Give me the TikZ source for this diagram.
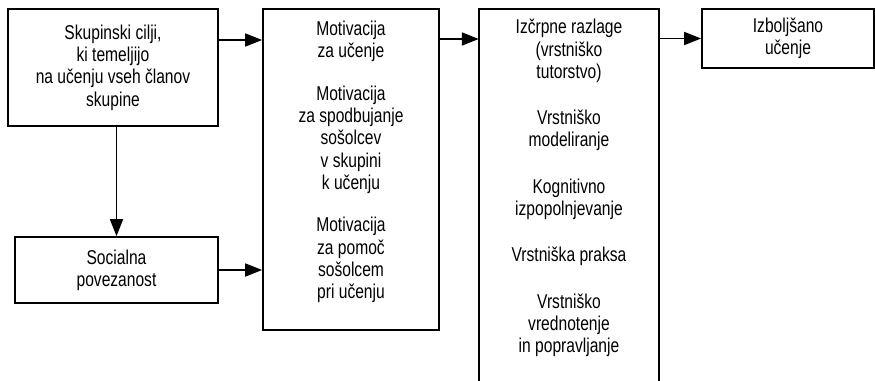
\documentclass[tikz,border=0pt]{standalone}
\usepackage{fontspec}
\setmainfont[FakeStretch=0.78]{Liberation Sans}
\usetikzlibrary{arrows.meta,positioning}
\tikzstyle{box}=[draw, line width=1.7pt, inner sep=0pt]
\tikzstyle{txt}=[align=center, inner sep=0pt, font=\fontsize{20}{22.3}\selectfont]
\tikzstyle{arrow}=[line width=1.7pt, -{Triangle[length=17pt,width=13pt]}]

\begin{document}
\begin{tikzpicture}[x=1pt, y=-1pt]
    \useasboundingbox (0,0) rectangle (875,380);
% Boxes
    \node[box, txt, minimum width=210pt, minimum height=117pt] (goals) at (113,67.5)
        {Skupinski cilji,\\ki temeljijo\\na učenju vseh članov\\skupine};
    \node[box, txt, minimum width=203pt, minimum height=66pt] (social) at (116.5,270)
        {Socialna\\povezanost};
    \node[box, minimum width=176pt, minimum height=321pt] (motiv) at (351,169.5) {};
    \node[minimum width=180pt, minimum height=400pt, inner sep=0pt] (peer) at (569,209) {};
    \draw[line width=1.7pt] (peer.south west) -- (peer.north west) -- (peer.north east) -- (peer.south east);
    \node[box, txt, minimum width=172pt, minimum height=59pt] (better) at (788,38.5)
        {Izboljšano\\učenje};
% Texts in the tall boxes
    \node[txt, anchor=north] (motivtxt) at (351,21)
        {Motivacija\\za učenje\\[20pt]
         Motivacija\\za spodbujanje\\sošolcev\\v skupini\\k učenju\\[20pt]
         Motivacija\\za pomoč\\sošolcem\\pri učenju};
    \node[txt, anchor=north] (peertxt) at (569,19)
        {Izčrpne razlage\\(vrstniško\\tutorstvo)\\[24pt]
         Vrstniško\\modeliranje\\[24pt]
         Kognitivno\\izpopolnjevanje\\[24pt]
         Vrstniška praksa\\[24pt]
         Vrstniško\\vrednotenje\\in popravljanje};
% Arrows
    \draw[arrow] (goals.east |- 0,40) -- (motiv.west |- 0,40);
    \draw[arrow] (social.north |- goals.south) -- (social.north);
    \draw[arrow] (social.east) -- (social.east -| motiv.west);
    \draw[arrow] (motiv.east |- 0,39) -- (peer.west |- 0,39);
    \draw[arrow] (peer.east |- better) -- (better.west);
\end{tikzpicture}
\end{document}
